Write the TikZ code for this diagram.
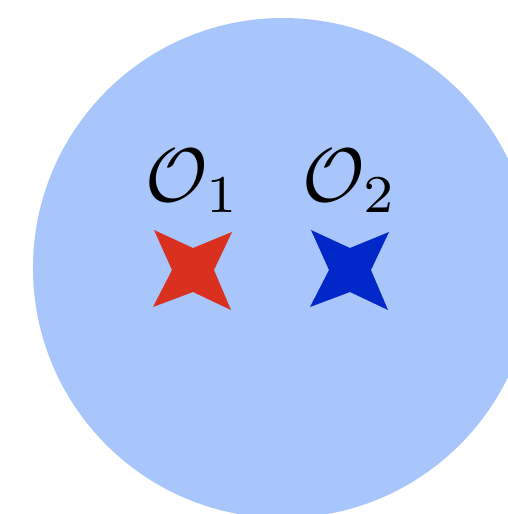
\documentclass[tikz,border=0pt]{standalone}
\usepackage{graphicx}
\usepackage{amsmath}
\usetikzlibrary{calc}
\newcommand{\biglabel}[1]{\scalebox{7.6}{$#1$}}
\begin{document}
\begin{tikzpicture}[x=1pt,y=-1pt,
  lbl/.style={inner sep=0pt,anchor=base}]
\definecolor{bgblue}{HTML}{A8C6FC}
\definecolor{starred}{HTML}{D93020}
\definecolor{starblue}{HTML}{0028C8}
\useasboundingbox (0,0) rectangle (508,514);
\begin{scope}
\clip (0,0) rectangle (508,514);
\fill[bgblue] (283,268) circle[radius=250];
\end{scope}
\coordinate (s1) at (193,270);
\coordinate (s2) at (350,270);
\foreach \c/\col in {s1/starred,s2/starblue}{
  \fill[\col] ($(\c)+(-39,-40)$) -- ($(\c)+(0,-22)$) -- ($(\c)+(39,-38)$) -- ($(\c)+(21,0)$)
    -- ($(\c)+(38,40)$) -- ($(\c)+(0,22)$) -- ($(\c)+(-40,37)$) -- ($(\c)+(-21,0)$) -- cycle;
}
\node[lbl] (o1) at (193,201) {\biglabel{\mathcal{O}_1}};
\node[lbl] (o2) at (350,201) {\biglabel{\mathcal{O}_2}};
\end{tikzpicture}
\end{document}
